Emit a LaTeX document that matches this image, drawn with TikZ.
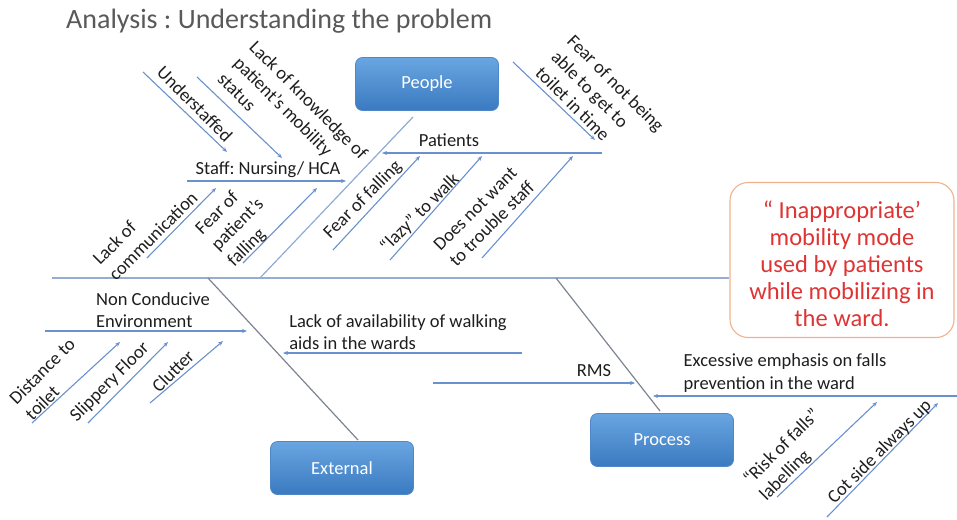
\documentclass[tikz,border=0pt]{standalone}
\usepackage{fontspec}
\setmainfont{Carlito}
\usetikzlibrary{arrows.meta}
\frenchspacing
\definecolor{titlegray}{RGB}{89,89,89}
\definecolor{labeltext}{RGB}{30,30,30}
\definecolor{spinecol}{RGB}{150,172,208}
\definecolor{twigcol}{RGB}{105,145,205}
\definecolor{peoplebonecol}{RGB}{140,172,215}
\definecolor{bonecol}{RGB}{125,132,145}
\definecolor{boxtop}{RGB}{105,165,225}
\definecolor{boxbot}{RGB}{58,122,192}
\definecolor{boxedge}{RGB}{80,135,200}
\definecolor{effred}{RGB}{222,52,52}
\definecolor{effedge}{RGB}{240,178,140}
\begin{document}
\begin{tikzpicture}[x=1pt,y=-1pt,
  catbox/.style={rounded corners=7pt, draw=boxedge, line width=0.8pt,
    top color=boxtop, bottom color=boxbot, minimum width=143pt,
    minimum height=53pt, text=white, font=\fontsize{18.5}{22}\selectfont},
  effectbox/.style={rounded corners=18pt, draw=effedge, line width=1.1pt,
    minimum width=224pt, minimum height=155pt, align=center, text=effred,
    font=\fontsize{24.5}{27}\selectfont},
  lbl/.style={text=labeltext, font=\fontsize{18.5}{22.5}\selectfont,
    inner sep=0pt, align=left},
  spine/.style={draw=spinecol, line width=1.4pt},
  bone/.style={draw=bonecol, line width=1.2pt},
  pbone/.style={draw=peoplebonecol, line width=1.2pt},
  twig/.style={draw=twigcol, line width=1.1pt,
    -{Stealth[length=5pt,width=4pt]}},
]
\useasboundingbox (0,0) rectangle (957,519);

% title
\node[lbl, text=titlegray, anchor=west, font=\fontsize{28}{32}\selectfont]
  (title) at (66,21) {Analysis : Understanding the problem};

% effect and the three category boxes
\node[effectbox] (effect) at (842,260) {};
\node[text=effred, align=center, font=\fontsize{24.5}{27}\selectfont]
  (effecttext) at (842,264) {“ Inappropriate’\\mobility mode\\used by patients\\while mobilizing in\\the ward.};
\node[catbox] (people) at (427,84) {People};
\node[catbox] (external) at (342,468) {External};
\node[catbox] (process) at (662,440) {Process};

% main spine
\coordinate (tail) at (52,278);
\draw[spine] (tail) -- (tail -| effect.west);

% bones
\coordinate (pTop) at (413,117);  \coordinate (pFoot) at (260,278);
\coordinate (eFoot) at (208,278); \coordinate (eEnd) at (358,440);
\coordinate (rFoot) at (556,278); \coordinate (rEnd) at (660,411);
\draw[pbone] (pTop) -- (pFoot);
\draw[bone] (eFoot) -- (eEnd);
\draw[bone] (rFoot) -- (rEnd);

% people: staff branch
\coordinate (staffL) at (187,181); \coordinate (staffR) at (346,181);
\draw[twig] (staffL) -- (staffR);
\node[lbl] (staff) at (268,170) {Staff: Nursing/ HCA};

\coordinate (u1) at (143,72);  \coordinate (u2) at (227,152);
\coordinate (k1) at (197,77);  \coordinate (k2) at (282,158);
\coordinate (c1) at (147,258); \coordinate (c2) at (216,188);
\coordinate (f1) at (243,263); \coordinate (f2) at (317,188);
\draw[twig] (u1) -- (u2);
\draw[twig] (k1) -- (k2);
\draw[twig] (c1) -- (c2);
\draw[twig] (f1) -- (f2);
\node[lbl, rotate=-45] (understaffed) at (195,104) {Understaffed};
\node[lbl, rotate=-45] (knowledge) at (293,116) {Lack of knowledge of\\patient’s mobility\\status};
\node[lbl, rotate=45] (communication) at (145,228) {Lack of\\communication};
\node[lbl, rotate=45] (staffear) at (238,225) {Fear of\\patient’s\\falling};

% people: patients branch
\coordinate (patR) at (602,153); \coordinate (patL) at (382,153);
\draw[twig] (patR) -- (patL);
\node[lbl] (patients) at (449,140) {Patients};

\coordinate (t1) at (513,62);  \coordinate (t2) at (595,140);
\coordinate (a1) at (333,250); \coordinate (a2) at (420,156);
\coordinate (z1) at (390,260); \coordinate (z2) at (482,156);
\coordinate (d1) at (482,258); \coordinate (d2) at (573,156);
\draw[twig] (t1) -- (t2);
\draw[twig] (a1) -- (a2);
\draw[twig] (z1) -- (z2);
\draw[twig] (d1) -- (d2);
\node[lbl, rotate=-45] (toilettime) at (600,99) {Fear of not being\\able to get to\\toilet in time};
\node[lbl, rotate=45] (fearfall) at (363,200) {Fear of falling};
\node[lbl, rotate=45] (lazy) at (420,213) {“lazy” to walk};
\node[lbl, rotate=45] (trouble) at (484,216) {Does not want\\to trouble staff};

% external: environment branch
\coordinate (envL) at (45,331); \coordinate (envR) at (247,331);
\draw[twig] (envL) -- (envR);
\node[lbl] (environment) at (153,310) {Non Conducive\\Environment};

\coordinate (s1) at (32,423);  \coordinate (s2) at (120,342);
\coordinate (p1) at (88,423);  \coordinate (p2) at (168,342);
\coordinate (l1) at (150,403); \coordinate (l2) at (223,341);
\draw[twig] (s1) -- (s2);
\draw[twig] (p1) -- (p2);
\draw[twig] (l1) -- (l2);
\node[lbl, rotate=45] (distance) at (50,379) {Distance to\\toilet};
\node[lbl, rotate=45] (slippery) at (110,382) {Slippery Floor};
\node[lbl, rotate=45] (clutter) at (173,371) {Clutter};

% external: walking aids
\coordinate (wR) at (522,353); \coordinate (wL) at (283,353);
\draw[twig] (wR) -- (wL);
\node[lbl] (walking) at (398,332) {Lack of availability of walking\\aids in the wards};

% process: RMS and emphasis branches
\coordinate (rmsL) at (433,383); \coordinate (rmsR) at (635,383);
\draw[twig] (rmsL) -- (rmsR);
\node[lbl] (rms) at (594,371) {RMS};

\coordinate (exR) at (957,396); \coordinate (exL) at (653,396);
\draw[twig] (exR) -- (exL);
\node[lbl] (emphasis) at (785,373) {Excessive emphasis on falls\\prevention in the ward};

\coordinate (r1) at (777,497); \coordinate (r2) at (877,402);
\coordinate (o1) at (827,517); \coordinate (o2) at (938,403);
\draw[twig] (r1) -- (r2);
\draw[twig] (o1) -- (o2);
\node[lbl, rotate=45] (risk) at (790,455) {“Risk of falls”\\labelling};
\node[lbl, rotate=45] (cotside) at (880,452) {Cot side always up};
\end{tikzpicture}
\end{document}
